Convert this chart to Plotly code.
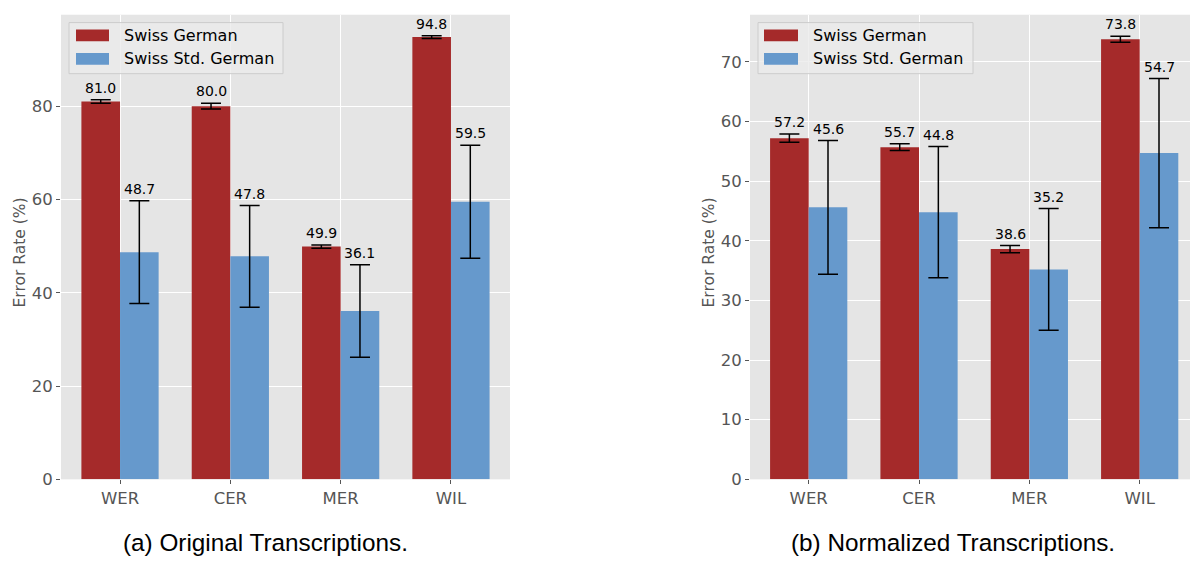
import plotly.graph_objects as go

W, H = 1190, 564  # reference picture size (used for paper fractions)

metrics = ["WER", "CER", "MER", "WIL"]
series_names = ["Swiss German", "Swiss Std. German"]

# (a) Original transcriptions
orig_sg = [81.0, 80.0, 49.9, 94.8]
orig_sg_err = [0.35, 0.6, 0.35, 0.3]
orig_ssg = [48.7, 47.8, 36.1, 59.5]
orig_ssg_err = [11.0, 10.9, 9.9, 12.1]

# (b) Normalized transcriptions
norm_sg = [57.2, 55.7, 38.6, 73.8]
norm_sg_err = [0.7, 0.55, 0.6, 0.5]
norm_ssg = [45.6, 44.8, 35.2, 54.7]
norm_ssg_err = [11.2, 11.0, 10.2, 12.5]

captions = ["(a) Original Transcriptions.", "(b) Normalized Transcriptions."]
y_ticks_a = [0, 20, 40, 60, 80]
y_ticks_b = [0, 10, 20, 30, 40, 50, 60, 70]

RED = "#A52A2A"
BLUE = "#6699CC"
BG = "#E5E5E5"
TICK = "#555555"
FONT = "DejaVu Sans"


def px_x(p):
    return p / W


def px_y(p):
    return 1 - p / H


fig = go.Figure()

panels = [
    dict(sg=orig_sg, sge=orig_sg_err, ssg=orig_ssg, ssge=orig_ssg_err,
         xa="x", ya="y", dom=[61, 510], yr=[0, 99.6], ticks=y_ticks_a,
         xr=[-0.535, 3.535], leg=(69, 283, 76, 109, 122), title_x=20,
         cap_x=265),
    dict(sg=norm_sg, sge=norm_sg_err, ssg=norm_ssg, ssge=norm_ssg_err,
         xa="x2", ya="y2", dom=[750, 1190], yr=[0, 77.9], ticks=y_ticks_b,
         xr=[-0.532, 3.456], leg=(758, 973, 764, 798, 811), title_x=709,
         cap_x=953),
]

annotations = []
shapes = []

for i, p in enumerate(panels):
    for name, vals, errs, col in [
        (series_names[0], p["sg"], p["sge"], RED),
        (series_names[1], p["ssg"], p["ssge"], BLUE),
    ]:
        fig.add_trace(go.Bar(
            x=metrics, y=vals, name=name, xaxis=p["xa"], yaxis=p["ya"],
            marker=dict(color=col, line=dict(width=0)),
            error_y=dict(type="data", array=errs, visible=True,
                         color="black", thickness=1.5, width=10),
            showlegend=False, hoverinfo="skip",
        ))
    # value labels
    for k in range(len(metrics)):
        for off, vals, errs in [(-0.175, p["sg"], p["sge"]), (0.175, p["ssg"], p["ssge"])]:
            annotations.append(dict(
                x=k + off, y=vals[k] + errs[k], xref=p["xa"], yref=p["ya"],
                text=f"{vals[k]:.1f}", showarrow=False, yanchor="bottom",
                xanchor="center", yshift=2,
                font=dict(family=FONT, size=14, color="black"),
            ))
    # y title
    annotations.append(dict(
        x=px_x(p["title_x"]), y=px_y(257), xref="paper", yref="paper",
        text="Error Rate (%)", textangle=-90, showarrow=False,
        xanchor="center", yanchor="middle",
        font=dict(family=FONT, size=15.5, color=TICK),
    ))
    # caption
    annotations.append(dict(
        x=px_x(p["cap_x"]), y=px_y(552), xref="paper", yref="paper",
        text=captions[i], showarrow=False, xanchor="center", yanchor="middle",
        font=dict(family="Liberation Sans", size=24.3, color="black"),
    ))
    # legend (drawn)
    bx0, bx1, px0, px1, tx = p["leg"]
    shapes.append(dict(type="rect", xref="paper", yref="paper",
                       x0=px_x(bx0), x1=px_x(bx1), y0=px_y(75), y1=px_y(23),
                       fillcolor="rgba(235,235,235,0.8)",
                       line=dict(color="#CCCCCC", width=1), layer="above"))
    for (y0, y1, yc), col, name in [((30, 42, 36), RED, series_names[0]),
                                     ((54, 66, 60), BLUE, series_names[1])]:
        shapes.append(dict(type="rect", xref="paper", yref="paper",
                           x0=px_x(px0), x1=px_x(px1), y0=px_y(y1), y1=px_y(y0),
                           fillcolor=col, line=dict(width=0), layer="above"))
        annotations.append(dict(
            x=px_x(tx), y=px_y(yc), xref="paper", yref="paper", text=name,
            showarrow=False, xanchor="left", yanchor="middle",
            font=dict(family=FONT, size=16, color="black"),
        ))

axis_common = dict(showgrid=True, gridcolor="white", gridwidth=1,
                   ticks="outside", ticklen=4, tickcolor=TICK,
                   tickfont=dict(family=FONT, size=16.5, color=TICK),
                   zeroline=False, showline=False)

for i, p in enumerate(panels):
    sfx = "" if i == 0 else "2"
    fig.layout["xaxis" + sfx] = dict(
        domain=[px_x(p["dom"][0]), px_x(p["dom"][1])], anchor="y" + sfx,
        range=p["xr"], type="category", **axis_common)
    fig.layout["yaxis" + sfx] = dict(
        domain=[px_y(488), px_y(15)], anchor="x" + sfx, range=p["yr"],
        tickvals=p["ticks"], **axis_common)

fig.update_layout(
    autosize=True, margin=dict(l=0, r=0, t=0, b=0),
    paper_bgcolor="white", plot_bgcolor=BG,
    barmode="group", bargap=0.3, bargroupgap=0,
    annotations=annotations, shapes=shapes, showlegend=False,
)

fig.write_html(
    "out.html",
    default_width="100vw",
    default_height="100vh",
    config={"displayModeBar": False, "responsive": True},
    post_script=(
        "var s=document.createElement('style');"
        "s.textContent='html,body{margin:0;padding:0;overflow:hidden;}';"
        "document.head.appendChild(s);"
        "var g=document.getElementById('{plot_id}');"
        "g.style.position='fixed';g.style.left='0px';g.style.top='0px';"
        "Plotly.Plots.resize(g);"
    ),
)
